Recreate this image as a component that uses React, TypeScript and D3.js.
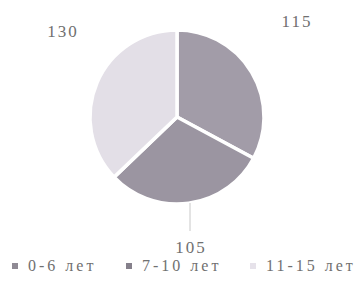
import { useEffect, useRef } from "react";
import * as d3 from "d3";

const categories = ["0-6 лет", "7-10 лет", "11-15 лет"];
const values = [115, 105, 130];
const colors = ["#a29ca8", "#9b95a1", "#e3dfe7"];
const legendColors = ["#8f8a94", "#85808b", "#e6e2ea"];

export default function App() {
  const svgRef = useRef<SVGSVGElement>(null);

  useEffect(() => {
    if (!svgRef.current) return;
    const svg = d3.select(svgRef.current);
    svg.selectAll("*").remove();

    const cx = 177;
    const cy = 117;
    const r = 87;
    const textColor = "#707070";
    const font = "'Times New Roman', Times, 'DejaVu Serif', serif";

    const data = categories.map((c, i) => ({ name: c, value: values[i], color: colors[i] }));

    const pie = d3
      .pie<(typeof data)[0]>()
      .value((d) => d.value)
      .sort(null);
    const arcs = pie(data);

    const arc = d3
      .arc<d3.PieArcDatum<(typeof data)[0]>>()
      .innerRadius(0)
      .outerRadius(r);

    const g = svg.append("g").attr("transform", `translate(${cx},${cy})`);

    g.selectAll("path")
      .data(arcs)
      .join("path")
      .attr("d", arc)
      .attr("fill", (d) => d.data.color)
      .attr("stroke", "#ffffff")
      .attr("stroke-width", 3.5)
      .attr("stroke-linejoin", "round");

    // labels placed outside the pie
    const labelPos = [
      { dx: 120, dy: -90 },
      { dx: 14, dy: 136 },
      { dx: -114, dy: -80 },
    ];
    g.selectAll("text.val")
      .data(arcs)
      .join("text")
      .attr("class", "val")
      .attr("x", (_, i) => labelPos[i].dx)
      .attr("y", (_, i) => labelPos[i].dy)
      .attr("text-anchor", "middle")
      .attr("fill", textColor)
      .style("font-family", font)
      .style("font-size", "17px")
      .style("letter-spacing", "2px")
      .text((d) => d.data.value);

    // leader line for the bottom slice
    g.append("line")
      .attr("x1", 13)
      .attr("x2", 13)
      .attr("y1", r - 1)
      .attr("y2", 114)
      .attr("stroke", "#c8c8c8")
      .attr("stroke-width", 1);

    // legend
    const legendX = [12, 126, 250];
    const legend = svg
      .append("g")
      .selectAll("g")
      .data(data)
      .join("g")
      .attr("transform", (_, i) => `translate(${legendX[i]},271)`);
    legend
      .append("rect")
      .attr("x", 0)
      .attr("y", -8)
      .attr("width", 6)
      .attr("height", 6)
      .attr("fill", (_, i) => legendColors[i]);
    legend
      .append("text")
      .attr("x", 16)
      .attr("y", 0)
      .attr("fill", textColor)
      .style("font-family", font)
      .style("font-size", "16px")
      .style("letter-spacing", "3px")
      .text((d) => d.name);
  }, []);

  return (
    <svg
      ref={svgRef}
      width={364}
      height={282}
      style={{ position: "absolute", left: 0, top: 0, background: "#fff" }}
    />
  );
}
